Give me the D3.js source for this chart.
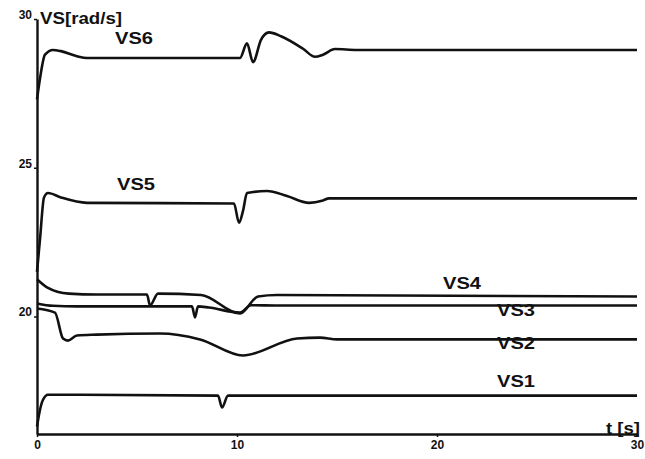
<!DOCTYPE html>
<html>
<head>
<meta charset="utf-8">
<script src="https://cdn.jsdelivr.net/npm/d3@7"></script>
<style>
  html, body { margin: 0; padding: 0; background: #fff; }
  svg { display: block; }
  text { font-family: "Liberation Sans", Arial, sans-serif; font-weight: bold; fill: #111; }
</style>
</head>
<body>
<svg id="chart" width="645" height="459"></svg>
<script>
// Rotor speeds VS1..VS6 [rad/s] versus time [s]: [t, value] samples
const vs6 = [[0,27.3],[0.15,28.0],[0.4,28.8],[0.8,28.96],[1.2,28.92],[2.0,28.75],[2.5,28.69],
  [10.15,28.69],[10.5,29.18],[10.8,28.55],[11.2,29.3],[11.6,29.55],[12.2,29.42],[13.3,29.0],
  [13.9,28.73],[14.3,28.8],[14.9,28.99],[16,28.96],[30,28.96]];
const vs5 = [[0,21.5],[0.15,22.6],[0.35,24.0],[0.55,24.15],[1.2,24.0],[2.5,23.82],[9.85,23.8],
  [10.1,23.15],[10.3,23.55],[10.5,24.15],[11.5,24.22],[12.5,24.05],[13.6,23.82],[14.3,23.9],
  [14.6,23.97],[30,23.97]];
const vs4 = [[0,21.25],[0.5,20.98],[1.6,20.77],[3,20.74],[5.5,20.74],[5.65,20.37],[6.05,20.77],
  [8.2,20.72],[10.15,20.1],[11.05,20.67],[12,20.72],[30,20.67]];
const vs3 = [[0,20.44],[0.8,20.36],[2,20.34],[7.75,20.34],[7.9,19.97],[8.05,20.34],[8.6,20.3],
  [10.15,20.13],[10.7,20.38],[12,20.37],[30,20.37]];
const vs2 = [[0,20.27],[0.9,20.13],[1.3,19.26],[1.55,19.19],[2.0,19.36],[3.0,19.39],[6.15,19.43],
  [8.15,19.23],[10.3,18.69],[13.0,19.26],[14.15,19.29],[15,19.23],[30,19.23]];
const vs1 = [[0,16.3],[0.1,16.7],[0.3,17.2],[0.55,17.37],[9.05,17.34],[9.25,16.94],[9.55,17.34],
  [30,17.34]];

const seriesNames = ["VS1","VS2","VS3","VS4","VS5","VS6"];
const seriesData = [vs1, vs2, vs3, vs4, vs5, vs6];
// label anchor per series: [t, value]
const labelPos = [[23.0,17.62],[23.0,18.9],[23.0,20.03],[20.3,20.93],[4.0,24.24],[3.9,29.15]];

const xTicks = [0, 10, 20, 30];
const yTicks = [20, 25, 30];

const svg = d3.select("#chart");
const x = d3.scaleLinear().domain([0, 30]).range([37, 637]);
const y = d3.scaleLinear().domain([16.05, 30]).range([434, 19]);

// axes
const xAxis = d3.axisBottom(x).tickValues(xTicks).tickSize(3).tickSizeOuter(0).tickPadding(3);
const yAxis = d3.axisLeft(y).tickValues(yTicks).tickSize(3).tickSizeOuter(0).tickPadding(2);

const gx = svg.append("g").attr("transform", `translate(0,${y.range()[0]})`).call(xAxis);
gx.select(".domain").attr("stroke", "#111").attr("stroke-width", 2.4);
gx.selectAll(".tick line").attr("stroke", "#111").attr("stroke-width", 1.5);
gx.selectAll(".tick text").attr("font-size", 12).attr("font-weight", "bold")
  .attr("font-family", "Liberation Sans, Arial, sans-serif").attr("fill", "#111");

const gy = svg.append("g").attr("transform", `translate(${x.range()[0]},0)`).call(yAxis);
gy.select(".domain").attr("stroke", "#111").attr("stroke-width", 2.4);
gy.selectAll(".tick line").attr("stroke", "#111").attr("stroke-width", 1.5);
gy.selectAll(".tick text").attr("font-size", 12).attr("font-weight", "bold")
  .attr("font-family", "Liberation Sans, Arial, sans-serif").attr("fill", "#111")
  .attr("dy", "-0.05em");

// axis titles
svg.append("text").attr("x", 40).attr("y", 24).attr("font-size", 16)
  .attr("textLength", 82).attr("lengthAdjust", "spacingAndGlyphs").text("VS[rad/s]");
svg.append("text").attr("x", 606).attr("y", 434).attr("font-size", 16)
  .attr("textLength", 34).attr("lengthAdjust", "spacingAndGlyphs").text("t [s]");

// traces
const line = d3.line()
  .x(d => x(d[0]))
  .y(d => y(d[1]))
  .curve(d3.curveMonotoneX);

svg.append("g").selectAll("path")
  .data(seriesData)
  .join("path")
  .attr("d", line)
  .attr("fill", "none")
  .attr("stroke", "#111")
  .attr("stroke-width", 2.6)
  .attr("stroke-linejoin", "round");

// series labels
svg.append("g").selectAll("text")
  .data(seriesNames)
  .join("text")
  .attr("x", (d, i) => x(labelPos[i][0]))
  .attr("y", (d, i) => y(labelPos[i][1]))
  .attr("font-size", 17)
  .attr("textLength", 38)
  .attr("lengthAdjust", "spacingAndGlyphs")
  .text(d => d);
</script>
</body>
</html>
